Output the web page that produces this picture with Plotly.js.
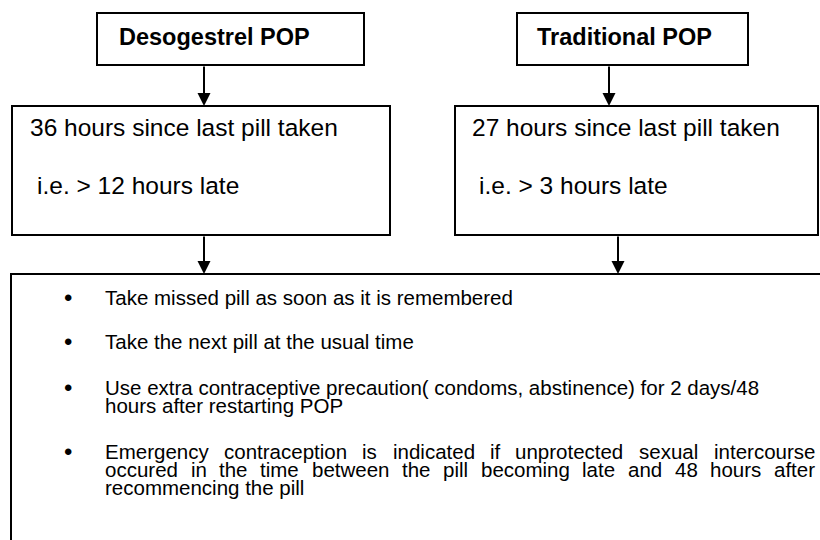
<!DOCTYPE html>
<html>
<head>
<meta charset="utf-8">
<script src="https://cdn.plot.ly/plotly-3.0.1.min.js"></script>
<style>html,body{margin:0;padding:0;background:#fff;}#chart{width:820px;height:540px;}</style>
</head>
<body>
<div id="chart"></div>
<script>
// ---- Content (texts only) ----
const pillTypes = ["Desogestrel POP", "Traditional POP"];
const hoursSince = ["36 hours since last pill taken", "27 hours since last pill taken"];
const hoursLate = ["i.e. > 12 hours late", "i.e. > 3 hours late"];
const actionLines = [
  ["Take missed pill as soon as it is remembered"],
  ["Take the next pill at the usual time"],
  ["Use extra contraceptive precaution( condoms, abstinence) for 2 days/48", "hours after restarting POP"],
  ["Emergency contraception is indicated if unprotected sexual intercourse",
   "occured in the time between the pill becoming late and 48 hours after",
   "recommencing the pill"]
];
const justifiedLines = [[false], [false], [false, false], [true, true, false]];

// ---- Layout geometry (page pixels) ----
const FONT = "Liberation Sans, Arial, sans-serif";
const headBoxes = [{x0: 97, x1: 364}, {x0: 517, x1: 748}];
const headY = [13, 65];
const headTextX = [117, 535];
const headTextY = 37;
const midBoxes = [{x0: 12, x1: 390}, {x0: 455, x1: 818}];
const midY = [106, 235];
const midTextX = [[28, 35], [470, 477]];
const midTextY = [127, 185];
const arrowTopX = [204, 609];
const arrowBotX = [204, 618];
const bottomBox = {x0: 11, x1: 840, y0: 274, y1: 580};
const bulletX = 68, textX = 103, textRight = 813;
const bulletBlockY = [297, 341, 387, 451];
const lineStep = 18;

const sizes = {head: 23.5, mid: 24.5, bullet: 20.5, dot: 24};

const shapes = [];
const annotations = [];
const lineStyle = {color: "#000", width: 2};

headBoxes.forEach(b => shapes.push({type: "rect", xref: "x", yref: "y", x0: b.x0, x1: b.x1, y0: headY[0], y1: headY[1], line: lineStyle}));
midBoxes.forEach(b => shapes.push({type: "rect", xref: "x", yref: "y", x0: b.x0, x1: b.x1, y0: midY[0], y1: midY[1], line: lineStyle}));
shapes.push({type: "rect", xref: "x", yref: "y", x0: bottomBox.x0, x1: bottomBox.x1, y0: bottomBox.y0, y1: bottomBox.y1, line: lineStyle});

function arrow(x, yFrom, yTo) {
  annotations.push({x: x, y: yTo, ax: x, ay: yFrom, xref: "x", yref: "y", axref: "x", ayref: "y",
    text: "", showarrow: true, arrowhead: 2, arrowsize: 1.3, arrowwidth: 2, arrowcolor: "#000", standoff: 0, startstandoff: 0});
}
arrowTopX.forEach(x => arrow(x, headY[1], midY[0]));
arrowBotX.forEach(x => arrow(x, midY[1], bottomBox.y0));

function label(text, x, y, size, bold, xanchor) {
  annotations.push({x: x, y: y, xref: "x", yref: "y", xanchor: xanchor || "left", yanchor: "middle", showarrow: false,
    text: bold ? "<b>" + text + "</b>" : text, font: {family: FONT, size: size, color: "#000"}});
}

pillTypes.forEach((t, i) => label(t, headTextX[i], headTextY, sizes.head, true));
hoursSince.forEach((t, i) => label(t, midTextX[i][0], midTextY[0], sizes.mid, false));
hoursLate.forEach((t, i) => label(t, midTextX[i][1], midTextY[1], sizes.mid, false));

const ctx = document.createElement("canvas").getContext("2d");
ctx.font = sizes.bullet + "px 'Liberation Sans'";
function measure(s) { return ctx.measureText(s).width; }

actionLines.forEach((lines, bi) => {
  const y0 = bulletBlockY[bi];
  label("\u2022", bulletX, y0, sizes.dot, false, "center");
  lines.forEach((line, li) => {
    const y = y0 + li * lineStep;
    if (justifiedLines[bi][li]) {
      const words = line.split(" ");
      const widths = words.map(measure);
      const total = widths.reduce((a, b) => a + b, 0);
      const gap = (textRight - textX - total) / (words.length - 1);
      let x = textX;
      words.forEach((w, wi) => { label(w, x, y, sizes.bullet, false); x += widths[wi] + gap; });
    } else {
      label(line, textX, y, sizes.bullet, false);
    }
  });
});

const layout = {
  width: 820, height: 540,
  margin: {l: 0, r: 0, t: 0, b: 0},
  paper_bgcolor: "#fff", plot_bgcolor: "#fff",
  showlegend: false,
  xaxis: {range: [0, 820], visible: false, fixedrange: true},
  yaxis: {range: [540, 0], visible: false, fixedrange: true},
  shapes: shapes,
  annotations: annotations
};
Plotly.newPlot("chart", [], layout, {staticPlot: true, displayModeBar: false});
</script>
</body>
</html>
